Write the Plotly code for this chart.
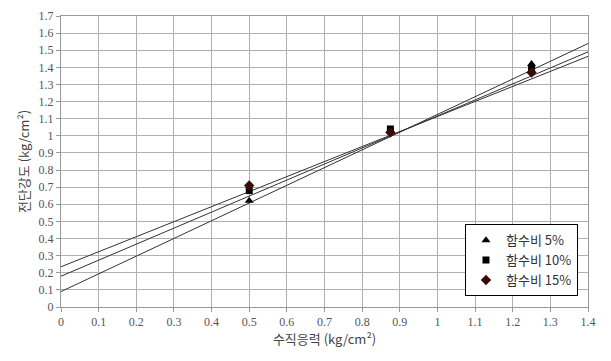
import plotly.graph_objects as go

# Data
series_names = ["함수비 5%", "함수비 10%", "함수비 15%"]
x_points = [0.5, 0.875, 1.25]
y_5 = [0.62, 1.03, 1.42]
y_10 = [0.68, 1.04, 1.39]
y_15 = [0.71, 1.02, 1.37]
# trendline parameters (intercept, slope)
intercepts = [0.09, 0.18, 0.235]
slopes = [1.035, 0.936, 0.878]
line_x_range = [0.0, 1.4]

x_ticks = [round(i * 0.1, 1) for i in range(15)]
y_ticks = [round(i * 0.1, 1) for i in range(18)]

series_y = [y_5, y_10, y_15]
symbols = ["triangle-up", "square", "diamond"]
colors = ["#000000", "#000000", "#3a0a0a"]
sizes = [8, 7, 8]

fig = go.Figure()

for b, m in zip(intercepts, slopes):
    fig.add_trace(go.Scatter(
        x=line_x_range, y=[b + m * xx for xx in line_x_range],
        mode="lines", line=dict(color="#333333", width=1),
        showlegend=False, hoverinfo="skip"))

for name, ys, sym, col, sz in zip(series_names, series_y, symbols, colors, sizes):
    fig.add_trace(go.Scatter(
        x=x_points, y=ys, mode="markers", name=name,
        marker=dict(symbol=sym, color=col, size=sz)))

tick_font = dict(family="Liberation Serif, DejaVu Serif, serif", size=12, color="#555555")
kfont = "Noto Sans CJK KR, Liberation Serif, serif"

fig.update_layout(
    width=611, height=361,
    margin=dict(l=53, r=31, t=8, b=62),
    paper_bgcolor="white", plot_bgcolor="white",
    showlegend=True,
    legend=dict(
        x=0.981, y=0.037, xanchor="right", yanchor="bottom",
        bgcolor="white", bordercolor="#000000", borderwidth=1,
        font=dict(family=kfont, size=13, color="#333333"),
        itemwidth=30, tracegroupgap=0,
    ),
    xaxis=dict(
        range=[0, 1.4], tickvals=x_ticks,
        ticktext=[f"{v:g}" for v in x_ticks],
        showgrid=True, gridcolor="#b0b0b0", gridwidth=1,
        showline=True, linecolor="#999999", mirror=True,
        ticks="outside", ticklen=4, tickcolor="#999999",
        tickfont=tick_font, zeroline=False, automargin=False,
        title=dict(text="수직응력 (kg/cm²)", font=dict(family=kfont, size=13, color="#444444"), standoff=6),
    ),
    yaxis=dict(
        range=[0, 1.7], tickvals=y_ticks,
        ticktext=[f"{v:g}" for v in y_ticks],
        showgrid=True, gridcolor="#b0b0b0", gridwidth=1,
        showline=True, linecolor="#999999", mirror=True,
        ticks="outside", ticklen=4, tickcolor="#999999",
        tickfont=tick_font, zeroline=False, automargin=False,
        title=dict(text="전단강도 (kg/cm²)", font=dict(family=kfont, size=13, color="#444444"), standoff=6),
    ),
)

fig.write_html("out.html")
